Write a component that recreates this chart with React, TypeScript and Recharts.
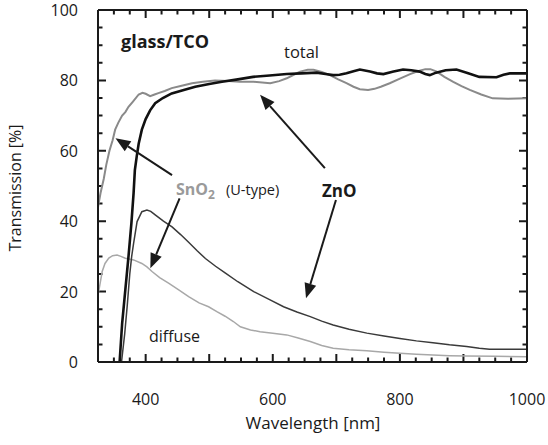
import React from "react";
import { LineChart, Line, XAxis, YAxis, ReferenceLine } from "recharts";

const FONT = '"Open Sans", "Noto Sans", sans-serif';

// [wavelength nm, transmission %]
const sno2Total: [number, number][] = [
  [325, 44], [329, 48], [334, 52], [338, 56], [343, 60], [348, 63], [352, 66],
  [357, 68], [363, 70], [368, 71], [373, 72.5], [380, 74], [389, 76], [395, 76.5],
  [400, 76.2], [407, 75.5], [414, 76], [420, 76.4], [430, 77], [441, 77.8],
  [455, 78.4], [473, 79.2], [490, 79.6], [509, 80], [530, 79.8], [548, 79.6],
  [570, 79.6], [596, 79.2], [610, 79.8], [622, 80.6], [633, 81.6], [643, 82.5],
  [655, 83], [664, 83], [677, 82.4], [690, 81.5], [703, 80.3], [716, 79.2],
  [727, 78.2], [737, 77.5], [750, 77.3], [760, 77.6], [770, 78.2], [784, 79.2],
  [800, 80.5], [816, 81.8], [828, 82.6], [840, 83.2], [848, 83.2], [858, 82.5],
  [870, 81], [884, 79.6], [897, 78.4], [910, 77.3], [928, 76], [946, 74.9],
  [970, 74.8], [1000, 74.9],
];

const znoTotal: [number, number][] = [
  [359, 0], [363, 11], [368, 20.5], [373, 30], [377.6, 39.5], [381, 48],
  [383, 54.5], [386, 58.5], [389, 62], [394, 66], [400, 69], [407, 71.5],
  [415, 73.5], [427, 75], [441, 76.3], [460, 77.3], [478, 78.2], [500, 79],
  [520, 79.6], [545, 80.3], [569, 81], [595, 81.4], [622, 81.8], [645, 82],
  [669, 82.2], [683, 81.8], [695, 81.5], [705, 81.6], [716, 82], [727, 82.6],
  [737, 83.1], [753, 82.5], [764, 82], [774, 81.8], [790, 82.5], [805, 83.1],
  [818, 82.9], [831, 82.5], [840, 81.8], [847, 81.5], [857, 82.2], [872, 82.9],
  [889, 83.1], [905, 82.2], [925, 81], [952, 80.9], [963, 81.6], [973, 82],
  [1000, 82],
];

const znoDiffuse: [number, number][] = [
  [362, 0], [367, 8], [371, 16], [375, 25], [378, 30], [381, 33.7], [386.5, 39.9],
  [394, 42.7], [402, 43.2], [408, 42.8], [415, 41.8], [428, 40], [441.5, 38.4],
  [455, 36.2], [467.6, 34], [481, 31.6], [494, 29.4], [510, 27.2], [525, 25.3],
  [545, 22.8], [570, 20], [595, 17.7], [617, 15.7], [638, 14.2], [659, 12.9],
  [677, 11.6], [695, 10.5], [720, 9.3], [748, 8.2], [775, 7.4], [800, 6.7],
  [826, 6], [852, 5.5], [878, 4.9], [905, 4.4], [925, 3.9], [941, 3.6],
  [970, 3.6], [1000, 3.6],
];

const sno2Diffuse: [number, number][] = [
  [325, 19], [328, 22], [331.6, 25.7], [336, 28], [342, 29.5], [348, 30.2],
  [355, 30.4], [361, 30], [368, 29.5], [381, 29], [394, 28], [402, 27],
  [410, 25.7], [422, 24], [436, 22.4], [452, 20.5], [467.6, 18.6], [484, 16.8],
  [499, 15.7], [512, 14.3], [525, 13], [538, 11.5], [549, 10], [565, 9.1],
  [580, 8.6], [600, 8.2], [622, 7.7], [640, 6.8], [659, 5.8], [677, 4.7],
  [695, 3.9], [720, 3.5], [748, 3.2], [775, 2.8], [800, 2.5], [826, 2.2],
  [852, 2], [878, 1.8], [905, 1.7], [950, 1.6], [1000, 1.5],
];

const xTicks = [350, 375, 400, 425, 450, 475, 500, 525, 550, 575, 600, 625, 650,
  675, 700, 725, 750, 775, 800, 825, 850, 875, 900, 925, 950, 975, 1000];
const xLabels = [400, 600, 800, 1000];
const yTicks = [0, 5, 10, 15, 20, 25, 30, 35, 40, 45, 50, 55, 60, 65, 70, 75, 80,
  85, 90, 95, 100];
const yLabels = [0, 20, 40, 60, 80, 100];

// annotation arrows, tail -> head, in data units
const arrows: [number, number, number, number][] = [
  [682, 55.1, 580, 75.9],
  [441.5, 53.1, 352.5, 63.6],
  [453.4, 46.5, 407.4, 26.6],
  [699.4, 46, 652.3, 18.1],
];

const pts = (a: [number, number][]) => a.map(([nm, t]) => ({ nm, t }));

const INK = "#1a1a1a";

// labels only; tick marks are drawn as short reference lines inside the frame
const BottomLabel = (p: any) => {
  const v = p.payload.value;
  if (!xLabels.includes(v)) return <g />;
  return (
    <text x={Number(p.x)} y={Number(p.y) + 43} textAnchor="middle" fontSize={16} fontFamily={FONT} fill={INK}>
      {v}
    </text>
  );
};

const LeftLabel = (p: any) => {
  const v = p.payload.value;
  if (!yLabels.includes(v)) return <g />;
  return (
    <text x={Number(p.x) - 20} y={Number(p.y) + 6} textAnchor="end" fontSize={16} fontFamily={FONT} fill={INK}>
      {v}
    </text>
  );
};

// inward ticks at both ends of a full-height / full-width reference line
const makeTick = (len: number, vertical: boolean) => (p: any) => {
  const x1 = Number(p.x1);
  const y1 = Number(p.y1);
  const x2 = Number(p.x2);
  const y2 = Number(p.y2);
  if (vertical) {
    const lo = Math.max(y1, y2);
    const hi = Math.min(y1, y2);
    return (
      <path d={`M${x1},${lo}V${lo - len}M${x1},${hi}V${hi + len}`} stroke={INK} strokeWidth={2} fill="none" />
    );
  }
  const l = Math.min(x1, x2);
  const r = Math.max(x1, x2);
  return (
    <path d={`M${l},${y1}H${l + len}M${r},${y1}H${r - len}`} stroke={INK} strokeWidth={2} fill="none" />
  );
};

const XMajor = makeTick(8, true);
const XMinor = makeTick(4.5, true);
const YMajor = makeTick(8, false);
const YMinor = makeTick(4.5, false);

const Arrow = (p: any) => {
  const x1 = Number(p.x1);
  const y1 = Number(p.y1);
  const x2 = Number(p.x2);
  const y2 = Number(p.y2);
  const dx = x2 - x1;
  const dy = y2 - y1;
  const d = Math.sqrt(dx * dx + dy * dy) || 1;
  const ux = dx / d;
  const uy = dy / d;
  const hl = 15;
  const hw = 6;
  const bx = x2 - ux * hl;
  const by = y2 - uy * hl;
  return (
    <g>
      <line x1={x1} y1={y1} x2={bx} y2={by} stroke={INK} strokeWidth={2} />
      <polygon
        points={`${x2},${y2} ${bx - uy * hw},${by + ux * hw} ${bx + uy * hw},${by - ux * hw}`}
        fill={INK}
      />
    </g>
  );
};

export default function App() {
  return (
    <div style={{ position: "absolute", left: 0, top: 0, width: 548, height: 445, background: "#fff" }}>
      <LineChart width={548} height={445} margin={{ top: 9, right: 20, bottom: 0, left: 0 }}>
        <XAxis
          dataKey="nm"
          type="number"
          domain={[325, 1000]}
          allowDataOverflow
          ticks={xTicks}
          interval={0}
          tick={BottomLabel}
          tickLine={false}
          tickSize={0}
          tickMargin={0}
          height={83}
          axisLine={{ stroke: INK, strokeWidth: 2 }}
        />
        <XAxis
          xAxisId="top"
          orientation="top"
          dataKey="nm"
          type="number"
          domain={[325, 1000]}
          allowDataOverflow
          tick={false}
          tickLine={false}
          height={1}
          axisLine={{ stroke: INK, strokeWidth: 2 }}
        />
        <YAxis
          type="number"
          domain={[0, 100]}
          ticks={yTicks}
          interval={0}
          tick={LeftLabel}
          tickLine={false}
          tickSize={0}
          tickMargin={0}
          width={98}
          axisLine={{ stroke: INK, strokeWidth: 2 }}
        />
        <YAxis
          yAxisId="right"
          orientation="right"
          type="number"
          domain={[0, 100]}
          tick={false}
          tickLine={false}
          width={1}
          axisLine={{ stroke: INK, strokeWidth: 2 }}
        />
        {xTicks.map((v) => (
          <ReferenceLine key={`x${v}`} x={v} shape={v % 100 === 0 ? XMajor : XMinor} ifOverflow="visible" />
        ))}
        {yTicks.map((v) => (
          <ReferenceLine key={`y${v}`} y={v} shape={v % 20 === 0 ? YMajor : YMinor} ifOverflow="visible" />
        ))}
        <Line data={pts(sno2Diffuse)} dataKey="t" stroke="#a8a8a8" strokeWidth={1.5} dot={false} isAnimationActive={false} />
        <Line data={pts(znoDiffuse)} dataKey="t" stroke="#3a3a3a" strokeWidth={1.5} dot={false} isAnimationActive={false} />
        <Line data={pts(sno2Total)} dataKey="t" stroke="#8a8a8a" strokeWidth={2} dot={false} isAnimationActive={false} />
        <Line data={pts(znoTotal)} dataKey="t" stroke="#111" strokeWidth={2.6} dot={false} isAnimationActive={false} />
        {arrows.map(([xa, ya, xb, yb], i) => (
          <ReferenceLine
            key={i}
            segment={[{ x: xa, y: ya }, { x: xb, y: yb }]}
            shape={Arrow}
            ifOverflow="visible"
          />
        ))}
      </LineChart>
      <svg
        width={548}
        height={445}
        style={{ position: "absolute", left: 0, top: 0, pointerEvents: "none" }}
        fontFamily={FONT}
        fill={INK}
      >
        <text x={121} y={48} fontSize={18} fontWeight={700}>glass/TCO</text>
        <text x={284} y={58} fontSize={16.5}>total</text>
        <text x={176} y={195} fontSize={16} fontWeight={700} fill="#9a9a9a">
          SnO<tspan fontSize={12} dy={4}>2</tspan>
        </text>
        <text x={226} y={195} fontSize={14.5}>(U-type)</text>
        <text x={322} y={197} fontSize={17} fontWeight={700}>ZnO</text>
        <text x={149} y={342} fontSize={16}>diffuse</text>
        <text x={313} y={429} fontSize={17} textAnchor="middle">Wavelength [nm]</text>
        <text x={21} y={188} fontSize={16} textAnchor="middle" transform="rotate(-90 21 188)">
          Transmission [%]
        </text>
      </svg>
    </div>
  );
}
